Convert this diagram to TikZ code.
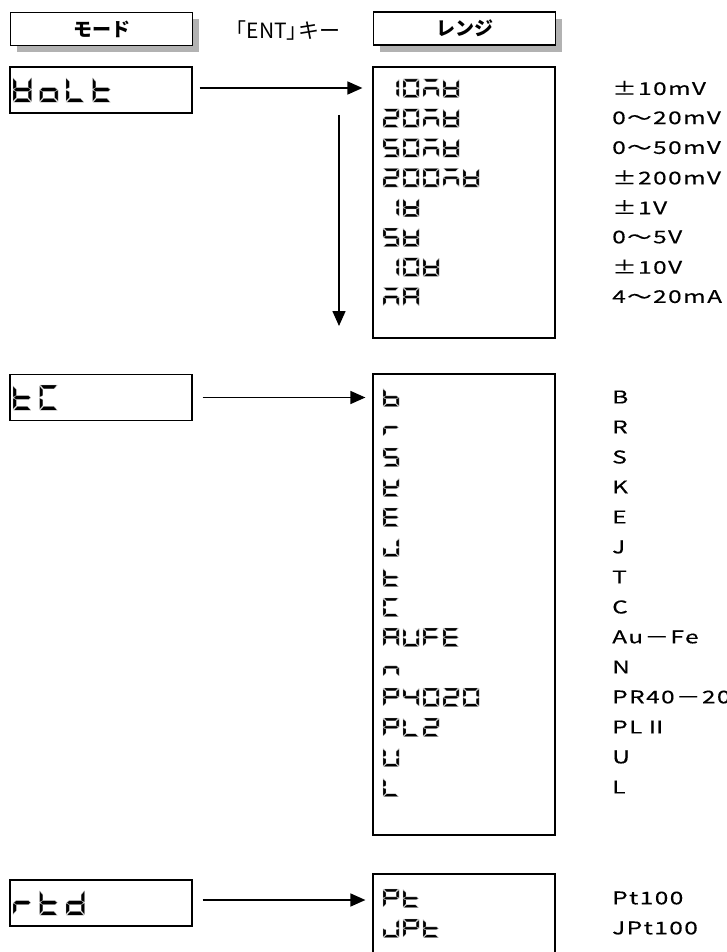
\documentclass[tikz,border=0pt]{standalone}
\usepackage{fontspec}
\setmainfont{Noto Sans CJK JP}
\newfontfamily\lblfont[FakeStretch=1.4,LetterSpace=8,FakeBold=0.3]{Noto Sans CJK JP}
\usetikzlibrary{arrows.meta,positioning,shadows}

% 7-segment parts, cell 10 x 12
\def\sega{\fill[segment] (0.4,0) -- (9.6,0) -- (7.8,1.8) -- (2.2,1.8) -- cycle;}
\def\segb{\fill[segment] (10,0.4) -- (8.2,2.2) -- (8.2,5.0) -- (10,5.8) -- cycle;}
\def\segc{\fill[segment] (10,6.2) -- (8.2,7.0) -- (8.2,9.8) -- (10,11.6) -- cycle;}
\def\segd{\fill[segment] (0.4,12) -- (9.6,12) -- (7.8,10.2) -- (2.2,10.2) -- cycle;}
\def\sege{\fill[segment] (0,6.2) -- (1.8,7.0) -- (1.8,9.8) -- (0,11.6) -- cycle;}
\def\segf{\fill[segment] (0,0.4) -- (1.8,2.2) -- (1.8,5.0) -- (0,5.8) -- cycle;}
\def\segg{\fill[segment] (0.4,6) -- (1.6,5.1) -- (8.4,5.1) -- (9.6,6) -- (8.4,6.9) -- (1.6,6.9) -- cycle;}

% characters
\def\chzero{a,b,c,d,e,f}
\def\chone{b,c}
\def\chtwo{a,b,d,e,g}
\def\chfour{b,c,f,g}
\def\chfive{a,c,d,f,g}
\def\chm{a,c,e,g}
\def\chV{b,c,d,e,f,g}
\def\chA{a,b,c,e,f,g}
\def\cho{c,d,e,g}
\def\chL{d,e,f}
\def\cht{d,e,f,g}
\def\chC{a,d,e,f}
\def\chr{e,g}
\def\chd{b,c,d,e,g}
\def\chb{c,d,e,f,g}
\def\chS{a,c,d,f,g}
\def\chK{b,d,e,f,g}
\def\chE{a,d,e,f,g}
\def\chJ{b,c,d,e}
\def\chU{b,c,d,e,f}
\def\chF{a,e,f,g}
\def\chn{c,e,g}
\def\chP{a,b,e,f,g}

% \lcdword{x}{y}{pitch}{scale}{chars}
\newcommand\lcdword[5]{%
  \foreach \c [count=\i from 0] in #5 {
    \edef\seglist{\csname ch\c\endcsname}
    \begin{scope}[shift={({#1+\i*#3},#2)},#4]
      \foreach \s in \seglist {\csname seg\s\endcsname}
    \end{scope}
  }}

\begin{document}
\begin{tikzpicture}[
    x=1pt, y=-1pt,
    >=Triangle,
    segment/.style={fill=black, draw=gray!45, line width=0.25pt},
    hdrbox/.style={draw, fill=white, line width=1.2pt, minimum width=182pt,
        minimum height=33pt, inner sep=0pt, font=\fontsize{19}{19}\selectfont\bfseries,
        drop shadow={shadow xshift=6pt, shadow yshift=-7pt, fill=gray!60, opacity=1}},
    modebox/.style={draw, line width=1.2pt, minimum width=182pt, minimum height=46pt, inner sep=0pt},
    rangebox/.style={draw, line width=1.2pt, minimum width=182pt, inner sep=0pt},
    lbl/.style={anchor=west, inner sep=0pt, font=\lblfont\fontsize{17.5}{17.5}\selectfont},
    arr/.style={->, line width=1.5pt, arrows={-Triangle[length=15pt,width=13pt]}},
    big/.style={xscale=1.85, yscale=2.1},
    small/.style={xscale=1.6, yscale=1.55}
]
\useasboundingbox (0,0) rectangle (726,952);

% headers
\node[hdrbox] (modehdr) at (101.5,29) {モード};
\node[hdrbox] (rangehdr) at (464.5,28.5) {レンジ};
\node[font=\fontsize{21}{21}\selectfont] (entkey) at (283,31) {「ENT」\hspace{-0.45em}キー};

% mode boxes
\node[modebox] (volt) at (101,90) {};
\node[modebox] (tc) at (101,397.5) {};
\node[modebox] (rtd) at (101,903) {};

% range boxes
\node[rangebox, minimum height=271pt] (rvolt) at (464,202.5) {};
\node[rangebox, minimum height=461pt] (rtc) at (464,604.5) {};
\node[rangebox, minimum height=101pt] (rrtd) at (464,924.5) {};

% arrows
\draw[arr] ([xshift=7pt,yshift=2pt]volt.east) -- ([xshift=-10pt,yshift=2pt]volt.east -| rvolt.west);
\draw[arr] ([xshift=10pt]tc.east) -- ([xshift=-7pt]tc.east -| rtc.west);
\draw[arr] ([xshift=10pt,yshift=3pt]rtd.east) -- ([xshift=-7pt,yshift=3pt]rtd.east -| rrtd.west);
\coordinate (scrolltop) at (339,115);
\coordinate (scrollend) at (339,326);
\draw[arr] (scrolltop) -- (scrollend);

% mode displays
\lcdword{13}{77}{26.5}{big}{{V,o,L,t}}
\lcdword{13}{385}{26.5}{big}{{t,C}}
\lcdword{13}{890}{26.5}{big}{{r,t,d}}

% voltage ranges
\foreach \w/\t [count=\k from 0] in {{one,zero,m,V}/±10mV, {two,zero,m,V}/0～20mV,
    {five,zero,m,V}/0～50mV, {two,zero,zero,m,V}/±200mV, {one,V}/±1V,
    {five,V}/0～5V, {one,zero,V}/±10V, {m,A}/4～20mA} {
  \lcdword{383}{79+29.8*\k}{20}{small}{\w}
  \node[lbl] (vlbl\k) at (612,88+29.8*\k) {\t};
}

% thermocouple ranges
\foreach \w/\t [count=\k from 0] in {{b}/B, {r}/R, {S}/S, {K}/K, {E}/E, {J}/J,
    {t}/T, {C}/C, {A,U,F,E}/Au－Fe, {n}/N, {P,four,zero,two,zero}/PR40－20,
    {P,L,two}/PLⅡ, {U}/U, {L}/L} {
  \lcdword{383}{388+30*\k}{20}{small}{\w}
  \node[lbl] (tlbl\k) at (612,397+30*\k) {\t};
}

% rtd ranges
\foreach \w/\t [count=\k from 0] in {{P,t}/Pt100, {J,P,t}/JPt100} {
  \lcdword{383}{889+30*\k}{20}{small}{\w}
  \node[lbl] (plbl\k) at (612,898+30*\k) {\t};
}

\end{tikzpicture}
\end{document}
